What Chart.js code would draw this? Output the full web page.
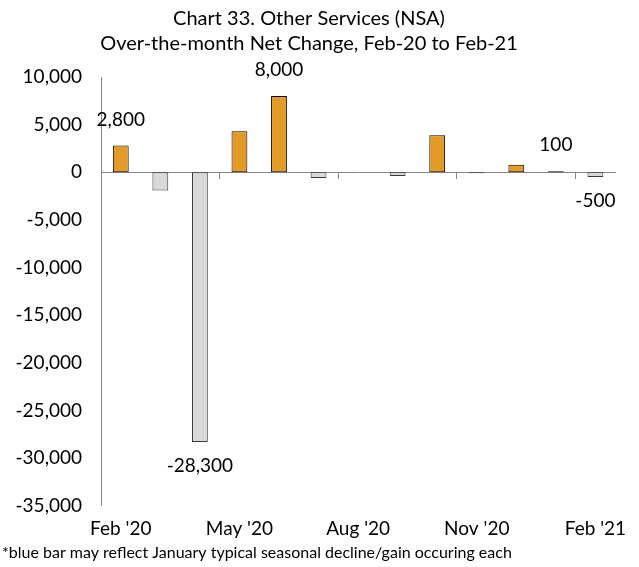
<!DOCTYPE html>
<html>
<head>
<meta charset="utf-8">
<script src="https://cdn.jsdelivr.net/npm/chart.js@4/dist/chart.umd.min.js"></script>
<style>
body{margin:0;background:#fff;}
#wrap{width:639px;height:567px;}
</style>
</head>
<body>
<div id="wrap"><canvas id="grafico" width="639" height="567"></canvas></div>
<script>
// meses Feb-20 .. Feb-21
var meses=["Feb '20","Mar '20","Apr '20","May '20","Jun '20","Jul '20","Aug '20","Sep '20","Oct '20","Nov '20","Dec '20","Jan '21","Feb '21"];
var variacao=[2800,-1900,-28300,4300,8000,-600,0,-400,3900,-100,800,100,-500];
var comRotulo=[0,2,4,11,12]; // barras com valor escrito
var yTicks=[-35000,-30000,-25000,-20000,-15000,-10000,-5000,0,5000,10000];
var titulo=["Chart 33. Other Services (NSA)","Over-the-month Net Change, Feb-20 to Feb-21"];
var nota="*blue bar may reflect January typical seasonal decline/gain occuring each";

var fonte="Lato";
var laranja="#E29B27";
var cinza="#D9D9D9";
var eixo="#868686";

function fmt(v){
    return v.toLocaleString("en-US");
}

var rotulos={
    id:"rotulos",
    afterDatasetsDraw(chart){
        var ctx=chart.ctx;
        var meta=chart.getDatasetMeta(0);
        ctx.save();
        ctx.font="19px "+fonte;
        ctx.fillStyle="#000";
        ctx.textAlign="center";
        ctx.textBaseline="middle";
        for (var i of comRotulo){
            var bar=meta.data[i];
            var v=variacao[i];
            var y=v>=0 ? bar.y-26 : bar.y+24;
            ctx.fillText(fmt(v),bar.x,y);
        }
        ctx.restore();
    }
};

var dados={
    labels:meses,
    datasets:[{
        label:"Net change",
        data:variacao,
        backgroundColor:variacao.map(v=>v>=0 ? laranja : cinza),
        borderColor:variacao.map(v=>v>=0 ? "#000" : "#3a3a3a"),
        borderWidth:1,
        borderSkipped:false,
        barPercentage:0.4,
        categoryPercentage:1
    }]
};

var config={
    type:"bar",
    data:dados,
    plugins:[rotulos],
    options:{
        responsive:false,
        animation:false,
        layout:{padding:{left:2,right:23,top:0,bottom:0}},
        plugins:{
            legend:{display:false},
            tooltip:{enabled:false},
            title:{
                display:true,
                text:titulo,
                color:"#000",
                font:{family:fonte,size:20,weight:"normal",lineHeight:1.25},
                padding:{top:6,bottom:21}
            },
            subtitle:{
                display:true,
                position:"bottom",
                align:"start",
                text:nota,
                color:"#000",
                font:{family:fonte,size:16,weight:"normal"},
                padding:{top:4,bottom:5}
            }
        },
        scales:{
            x:{
                type:"category",
                position:{y:0},
                offset:true,
                afterFit:(s)=>{ s.height=0; },
                ticks:{display:false},
                grid:{
                    offset:true,
                    drawOnChartArea:false,
                    drawTicks:true,
                    tickLength:6,
                    color:(c)=>c.index!==undefined && c.index%3===0 && c.index>0 ? eixo : "transparent"
                },
                border:{display:true,color:eixo,width:1}
            },
            x2:{
                type:"category",
                position:"bottom",
                offset:true,
                afterFit:(s)=>{ s.height=33; },
                grid:{display:false,drawTicks:false},
                border:{display:false},
                ticks:{
                    autoSkip:false,
                    maxRotation:0,
                    padding:12,
                    color:"#000",
                    font:{family:fonte,size:19},
                    callback:function(val,i){ return i%3===0 ? meses[i] : null; }
                }
            },
            y:{
                min:yTicks[0],
                max:yTicks[yTicks.length-1],
                afterBuildTicks:(s)=>{ s.ticks=yTicks.map(v=>({value:v})); },
                afterFit:(s)=>{ s.width=99; },
                grid:{display:false,drawTicks:false},
                border:{display:true,color:eixo,width:1},
                ticks:{
                    padding:19,
                    color:"#000",
                    font:{family:fonte,size:19},
                    callback:(v)=>fmt(v)
                }
            }
        }
    }
};

var g=new Chart(document.getElementById("grafico").getContext("2d"),config);
</script>
</body>
</html>
